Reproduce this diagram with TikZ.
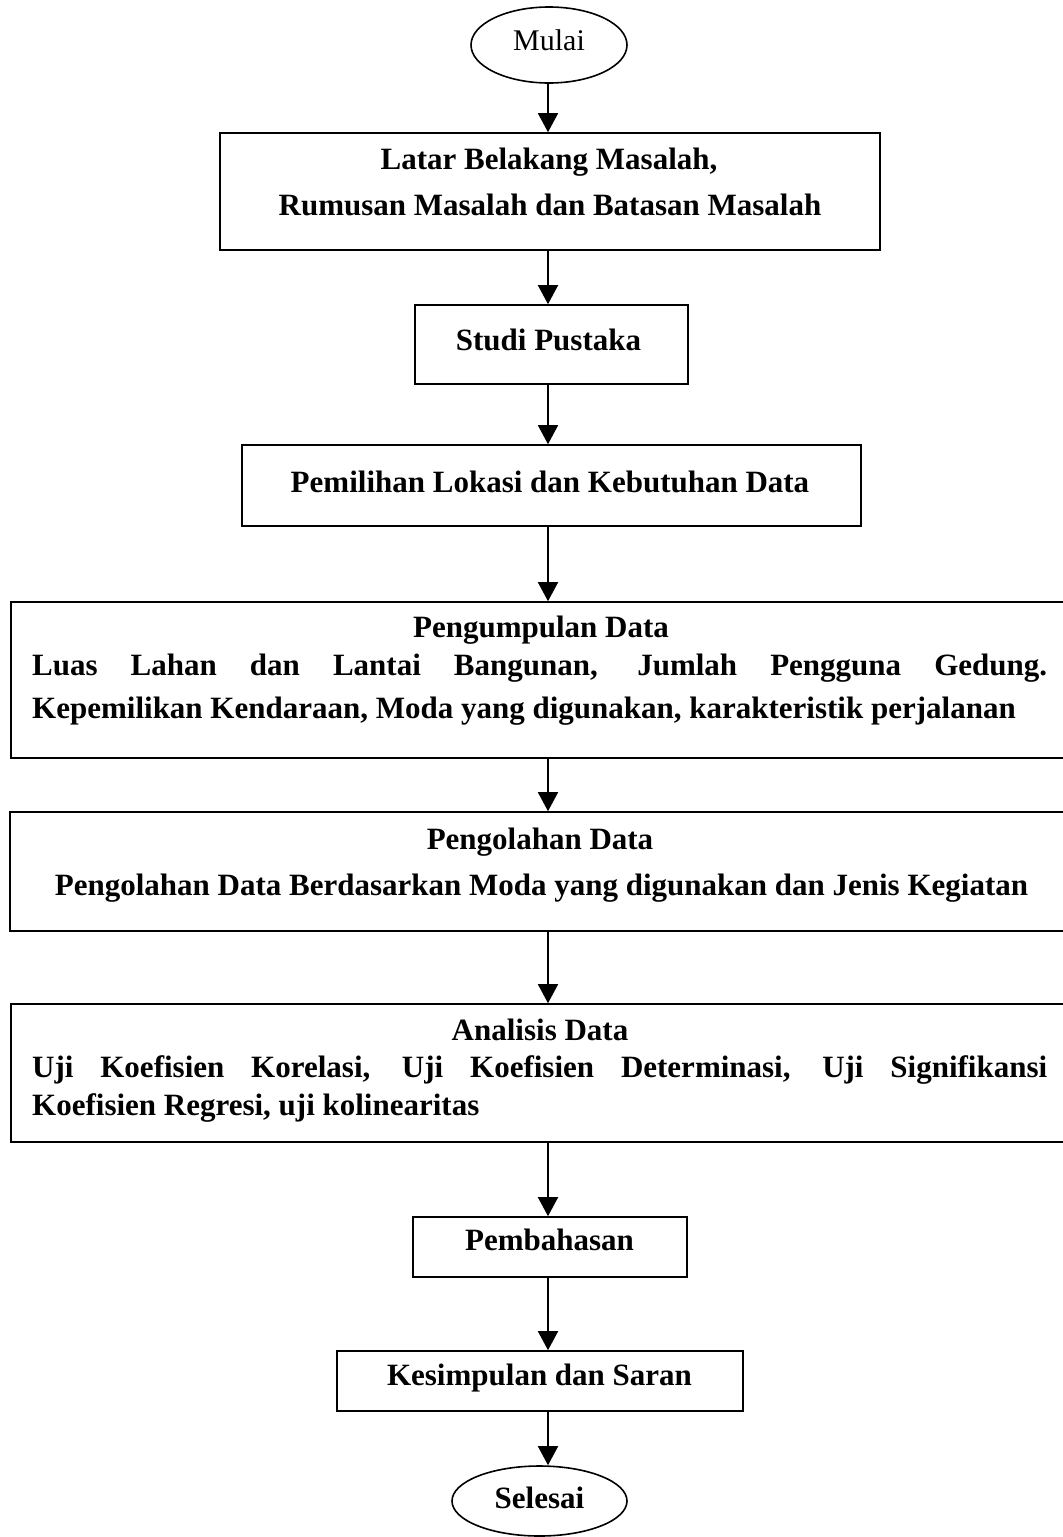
\documentclass[tikz,border=0pt]{standalone}
\usepackage{fontspec}
\setmainfont{Liberation Serif}
\usetikzlibrary{arrows.meta,shapes.geometric}
\tikzset{
  boxnode/.style={draw=black, line width=1.6pt, rectangle, inner sep=0pt},
  ovalnode/.style={draw=black, line width=1.6pt, ellipse, inner sep=0pt},
  txt/.style={inner sep=0pt, anchor=base, font=\fontsize{31}{37}\selectfont\bfseries},
  txtl/.style={inner sep=0pt, anchor=base west, font=\fontsize{31}{37}\selectfont\bfseries},
  flow/.style={line width=1.6pt, -{Triangle[width=20pt,length=19pt]}}
}
\begin{document}
\begin{tikzpicture}[x=1pt,y=-1pt]
\clip (0,0) rectangle (1063,1537);
\fill[white] (0,0) rectangle (1063,1537);

% shapes
\node[ovalnode, minimum width=156pt, minimum height=76pt] (mulai) at (549,45) {};
\node[boxnode, minimum width=660pt, minimum height=117pt] (b1) at (550,191.5) {};
\node[boxnode, minimum width=273pt, minimum height=79pt] (b2) at (551.5,344.5) {};
\node[boxnode, minimum width=619pt, minimum height=81pt] (b3) at (551.5,485.5) {};
\node[boxnode, minimum width=1069pt, minimum height=156pt] (b4) at (545.5,680) {};
\node[boxnode, minimum width=1070pt, minimum height=119pt] (b5) at (545,871.5) {};
\node[boxnode, minimum width=1069pt, minimum height=138pt] (b6) at (545.5,1073) {};
\node[boxnode, minimum width=274pt, minimum height=60pt] (b7) at (550,1247) {};
\node[boxnode, minimum width=406pt, minimum height=60pt] (b8) at (540,1381) {};
\node[ovalnode, minimum width=175pt, minimum height=70pt] (selesai) at (539.5,1501) {};

% texts
\node[inner sep=0pt, anchor=base, font=\fontsize{30}{36}\selectfont] (t0) at (549,50) {Mulai};
\node[txt] (t1a) at (549,169) {Latar Belakang Masalah,};
\node[txt] (t1b) at (550,215) {Rumusan Masalah dan Batasan Masalah};
\node[txt] (t2) at (548.5,350) {Studi Pustaka};
\node[txt] (t3) at (550,492) {Pemilihan Lokasi dan Kebutuhan Data};
\node[txt] (t4a) at (541,637) {Pengumpulan Data};
\node[txtl] (t4b) at (32,675) {\makebox[1015pt][s]{Luas Lahan dan Lantai Bangunan, Jumlah Pengguna Gedung.}};
\node[txtl] (t4c) at (32,718) {Kepemilikan Kendaraan, Moda yang digunakan, karakteristik perjalanan};
\node[txt] (t5a) at (540,849) {Pengolahan Data};
\node[txt] (t5b) at (541.5,895) {Pengolahan Data Berdasarkan Moda yang digunakan dan Jenis Kegiatan};
\node[txt] (t6a) at (540,1040) {Analisis Data};
\node[txtl] (t6b) at (32,1077) {\makebox[1015pt][s]{Uji Koefisien Korelasi, Uji Koefisien Determinasi, Uji Signifikansi}};
\node[txtl] (t6c) at (32,1115) {Koefisien Regresi, uji kolinearitas};
\node[txt] (t7) at (549.5,1250) {Pembahasan};
\node[txt] (t8) at (539.5,1385) {Kesimpulan dan Saran};
\node[txt] (t9) at (539.5,1508) {Selesai};

% connectors
\coordinate (ax) at (548,0);
\draw[flow] (ax |- mulai.south) -- (ax |- b1.north);
\draw[flow] (ax |- b1.south) -- (ax |- b2.north);
\draw[flow] (ax |- b2.south) -- (ax |- b3.north);
\draw[flow] (ax |- b3.south) -- (ax |- b4.north);
\draw[flow] (ax |- b4.south) -- (ax |- b5.north);
\draw[flow] (ax |- b5.south) -- (ax |- b6.north);
\draw[flow] (ax |- b6.south) -- (ax |- b7.north);
\draw[flow] (ax |- b7.south) -- (ax |- b8.north);
\draw[flow] (ax |- b8.south) -- (ax |- selesai.north);
\end{tikzpicture}
\end{document}
